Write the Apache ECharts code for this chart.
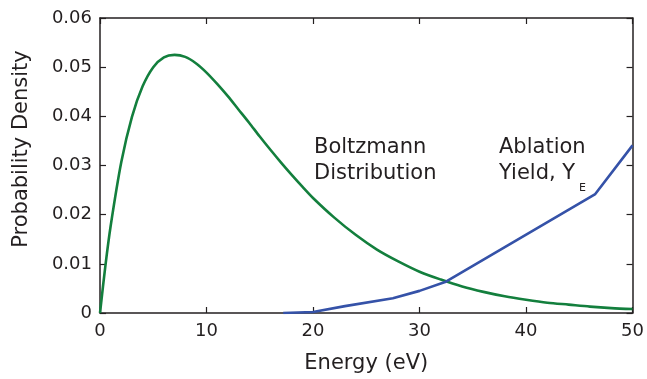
<!DOCTYPE html>
<html>
<head>
<meta charset="utf-8">
<script src="https://cdn.jsdelivr.net/npm/echarts@6/dist/echarts.min.js"></script>
<style>
html,body{margin:0;padding:0;background:#fff;}
#c{width:647px;height:379px;}
</style>
</head>
<body>
<div id="c"></div>
<script>
// Boltzmann distribution (energy eV, probability density)
var boltzE = [0, 0.5, 1, 2, 3, 4, 5, 6, 7, 8, 9, 10, 11, 12, 13, 14, 15, 16, 17, 18, 19, 20, 22, 24, 26, 28, 30, 32, 34, 36, 38, 40, 42, 44, 46, 48, 50];
var boltzP = [0, 0.0095, 0.0177, 0.0307, 0.0399, 0.0461, 0.0500, 0.0520, 0.0525, 0.0521, 0.0508, 0.0489, 0.0466, 0.0441, 0.0414, 0.0387, 0.0359, 0.0332, 0.0306, 0.0281, 0.0257, 0.0234, 0.0194, 0.0159, 0.0129, 0.0105, 0.0084, 0.0068, 0.0054, 0.0043, 0.0034, 0.0027, 0.0021, 0.0017, 0.0013, 0.0010, 0.0008];
// Ablation yield
var yieldE = [17.2, 20, 23, 27.5, 30, 32.4, 46.5, 50];
var yieldP = [0, 0.0002, 0.0014, 0.0030, 0.0045, 0.0063, 0.0242, 0.0341];
var xTicks = [0, 10, 20, 30, 40, 50];
var yTicks = [0, 0.01, 0.02, 0.03, 0.04, 0.05, 0.06];

var FONT = 'DejaVu Sans';
var TXT = '#231f20';

function pairs(xs, ys) { return xs.map(function (x, i) { return [x, ys[i]]; }); }

var axisLine = { show: true, onZero: false, lineStyle: { color: TXT, width: 1.5 } };
var axisTick = { show: true, inside: true, length: 6, lineStyle: { color: TXT, width: 1.2 } };

var chart = echarts.init(document.getElementById('c'), null, { renderer: 'canvas' });
chart.setOption({
  animation: false,
  backgroundColor: '#fff',
  grid: { left: 100, right: 12, top: 18, bottom: 66, containLabel: false },
  xAxis: [{
    type: 'value', min: xTicks[0], max: xTicks[xTicks.length - 1], interval: 10,
    position: 'bottom',
    axisLine: axisLine, axisTick: axisTick, splitLine: { show: false },
    axisLabel: { margin: 9, fontFamily: FONT, fontSize: 18, color: TXT },
    name: 'Energy (eV)', nameLocation: 'middle', nameGap: 40,
    nameTextStyle: { fontFamily: FONT, fontSize: 21, color: TXT }
  }, {
    type: 'value', min: xTicks[0], max: xTicks[xTicks.length - 1], interval: 10,
    position: 'top',
    axisLine: axisLine, axisTick: axisTick, splitLine: { show: false },
    axisLabel: { show: false }
  }],
  yAxis: [{
    type: 'value', min: yTicks[0], max: yTicks[yTicks.length - 1], interval: 0.01,
    position: 'left',
    axisLine: axisLine, axisTick: axisTick, splitLine: { show: false },
    axisLabel: {
      margin: 8, fontFamily: FONT, fontSize: 18, color: TXT,
      formatter: function (v) { return v === 0 ? '0' : v.toFixed(2); }
    }
  }, {
    type: 'value', min: yTicks[0], max: yTicks[yTicks.length - 1], interval: 0.01,
    position: 'right',
    axisLine: axisLine, axisTick: axisTick, splitLine: { show: false },
    axisLabel: { show: false }
  }],
  series: [{
    type: 'line', name: 'Boltzmann', data: pairs(boltzE, boltzP),
    smooth: 0.3, showSymbol: false, symbol: 'none',
    lineStyle: { color: '#137f3d', width: 2.6 }, z: 3
  }, {
    type: 'line', name: 'Yield', data: pairs(yieldE, yieldP),
    smooth: false, showSymbol: false, symbol: 'none',
    lineStyle: { color: '#3552a8', width: 2.6 }, z: 4
  }],
  graphic: [
    { type: 'text', x: 22, y: 149, rotation: Math.PI / 2,
      style: { text: 'Probability Density', font: '21px "DejaVu Sans"', fill: TXT, textAlign: 'center', textVerticalAlign: 'middle' } },
    { type: 'text', x: 314, y: 148,
      style: { text: 'Boltzmann', font: '21px "DejaVu Sans"', fill: TXT, textAlign: 'left', textVerticalAlign: 'middle' } },
    { type: 'text', x: 314, y: 174,
      style: { text: 'Distribution', font: '21px "DejaVu Sans"', fill: TXT, textAlign: 'left', textVerticalAlign: 'middle' } },
    { type: 'text', x: 499, y: 148,
      style: { text: 'Ablation', font: '21px "DejaVu Sans"', fill: TXT, textAlign: 'left', textVerticalAlign: 'middle' } },
    { type: 'text', x: 499, y: 174,
      style: { text: 'Yield, Y', font: '21px "DejaVu Sans"', fill: TXT, textAlign: 'left', textVerticalAlign: 'middle' } },
    { type: 'text', x: 579, y: 188,
      style: { text: 'E', font: '11px "DejaVu Sans"', fill: TXT, textAlign: 'left', textVerticalAlign: 'middle' } }
  ]
});
</script>
</body>
</html>
